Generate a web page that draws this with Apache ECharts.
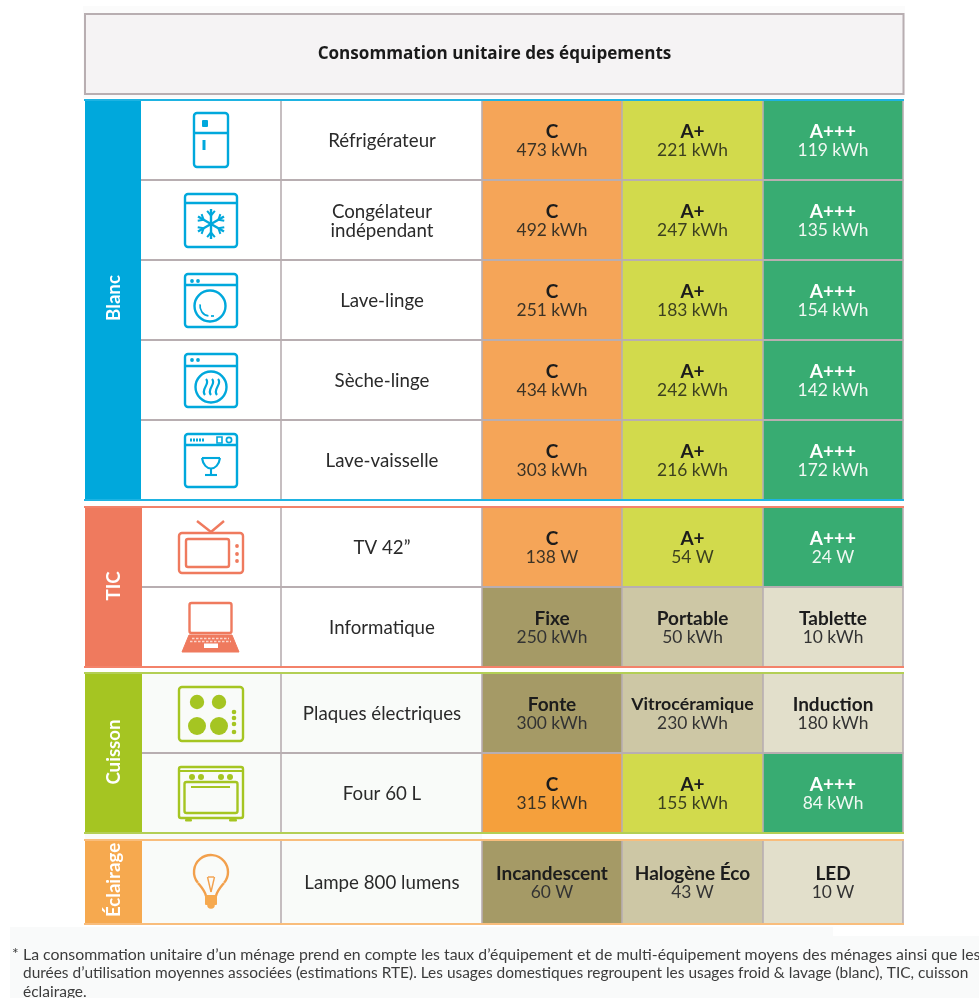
<!DOCTYPE html>
<html lang="fr"><head><meta charset="utf-8">
<style>html,body{margin:0;padding:0;background:#fff}#c{width:979px;height:998px}</style>
<script src="https://cdn.jsdelivr.net/npm/echarts@6/dist/echarts.min.js"></script></head>
<body><div id="c"></div>
<script>
const titleText = 'Consommation unitaire des équipements';
const groups = ['Blanc','TIC','Cuisson','Éclairage'];
const rowGroup = [0,0,0,0,0,1,1,2,2,3];
const equipment = ['Réfrigérateur','Congélateur\nindépendant','Lave-linge','Sèche-linge','Lave-vaisselle','TV 42”','Informatique','Plaques électriques','Four 60 L','Lampe 800 lumens'];
const icons = ['fridge','freezer','washer','dryer','dishwasher','tv','laptop','hob','oven','bulb'];
const classLow = ['C','C','C','C','C','C','Fixe','Fonte','C','Incandescent'];
const classMid = ['A+','A+','A+','A+','A+','A+','Portable','Vitrocéramique','A+','Halogène Éco'];
const classHigh = ['A+++','A+++','A+++','A+++','A+++','A+++','Tablette','Induction','A+++','LED'];
const valuesLow = [473,492,251,434,303,138,250,300,315,60];
const valuesMid = [221,247,183,242,216,54,50,230,155,43];
const valuesHigh = [119,135,154,142,172,24,10,180,84,10];
const units = ['kWh','kWh','kWh','kWh','kWh','W','kWh','kWh','kWh','W'];
const footnoteMark = '*';
const footnote = ['La consommation unitaire d’un ménage prend en compte les taux d’équipement et de multi-équipement moyens des ménages ainsi que les',
  'durées d’utilisation moyennes associées (estimations RTE). Les usages domestiques regroupent les usages froid & lavage (blanc), TIC, cuisson',
  'éclairage.'];

// layout, in the pixel-like units of the two hidden value axes
const rowTop = [100,180,260,340,420,507,587,673,753,840];
const rowBottom = [180,260,340,420,500,587,667,753,833,924];
const colEdges = [482,622,763,903];
const groupRows = [[0,4],[5,6],[7,8],[9,9]];
const groupColor = ['#00a8dc','#ef7a5e','#a5c522','#f6a94f'];
const groupLine = ['#1eb3e2','#f3826a','#b3cf55','#f9bd7c'];
const grid = '#b8aeb1';
const FONT = 'Lato, "Open Sans", sans-serif';
const dark = '#2a2a2a';

function cellStyle(rowI, colI){
  const label = [classLow,classMid,classHigh][colI][rowI];
  if (label === 'C') return {fill: rowI===8 ? '#f5a03c' : '#f5a558', head:'#1c1c1c', val:'#3b3326'};
  if (label === 'A+') return {fill:'#d2da4c', head:'#1c1c1c', val:'#3c4020'};
  if (label === 'A+++') return {fill:'#38ac72', head:'#ffffff', val:'#f0f8f2'};
  return {fill:['#a59a66','#cdc7a5','#e2dfcb'][colI], head:'#1c1c1c', val:'#333'};
}

function drawIcon(kind, api, color){
  const P = api.coord.bind(api);
  const c = (x,y)=>P([x,y]);
  const st = {stroke:color, fill:'none', lineWidth:2.4};
  const out = [];
  const rect = (x0,y0,x1,y1,r,s)=>{const a=c(x0,y0),b=c(x1,y1);out.push({type:'rect',shape:{x:a[0],y:a[1],width:b[0]-a[0],height:b[1]-a[1],r:r||0},style:Object.assign({},st,s||{})});};
  const line = (x0,y0,x1,y1,s)=>{const a=c(x0,y0),b=c(x1,y1);out.push({type:'line',shape:{x1:a[0],y1:a[1],x2:b[0],y2:b[1]},style:Object.assign({},st,s||{})});};
  const circ = (x,y,r,s)=>{const a=c(x,y);out.push({type:'circle',shape:{cx:a[0],cy:a[1],r},style:Object.assign({},st,s||{})});};
  const dot = (x,y,r)=>circ(x,y,r,{fill:color,stroke:'none'});
  const arc = (x,y,r,a0,a1,s)=>{const a=c(x,y);out.push({type:'arc',shape:{cx:a[0],cy:a[1],r,startAngle:a0,endAngle:a1,clockwise:true},style:Object.assign({},st,s||{})});};
  const bez = (x0,y0,c1x,c1y,c2x,c2y,x1,y1,s)=>{const a=c(x0,y0),b=c(x1,y1),p=c(c1x,c1y),q=c(c2x,c2y);out.push({type:'bezierCurve',shape:{x1:a[0],y1:a[1],x2:b[0],y2:b[1],cpx1:p[0],cpy1:p[1],cpx2:q[0],cpy2:q[1]},style:Object.assign({},st,s||{})});};
  const poly = (pts,s)=>{out.push({type:'polygon',shape:{points:pts.map(p=>c(p[0],p[1]))},style:Object.assign({},st,s||{})});};
  if (kind==='fridge'){
    rect(194,113,228,167,3); line(194,133,228,133);
    rect(202,120,208,127,1,{fill:color,stroke:'none'}); line(204,140,204,150,{lineWidth:3});
  } else if (kind==='freezer'){
    rect(185,194,237,247,3); line(185,203,237,203);
    const cx=211,cy=224;
    for(let i=0;i<6;i++){
      const t=Math.PI/6+i*Math.PI/3, ux=Math.cos(t), uy=Math.sin(t);
      line(cx,cy,cx+15*ux,cy+15*uy);
      const bx=cx+8.5*ux, by=cy+8.5*uy;
      [0.7,-0.7].forEach(d=>{const a=t+d; line(bx,by,bx+6*Math.cos(a),by+6*Math.sin(a),{lineWidth:2});});
    }
  } else if (kind==='washer'){
    rect(185,274,237,327,3); line(185,285,237,285);
    dot(192,281,1.9); dot(198,281,1.9);
    circ(210,306,15.5); arc(210,306,10,Math.PI*0.55,Math.PI*1.05,{lineWidth:1.7});
    line(211,316,214,316,{lineWidth:1.7});
  } else if (kind==='dryer'){
    rect(185,354,237,407,3); line(185,366,237,366);
    dot(192,360,1.9); dot(198,360,1.9);
    circ(211,387,15.5);
    [205,211,217].forEach(x=>bez(x+1,379,x+6,384,x-5,389,x,395,{lineWidth:2.2}));
  } else if (kind==='dishwasher'){
    rect(185,434,237,487,3); line(185,445,237,445);
    line(190,440,204,440,{lineDash:[2,1],lineWidth:2.8});
    rect(217,437,222,443,0,{lineWidth:1.6}); circ(229,440,2.6,{lineWidth:1.7});
    line(202,458,220,458,{lineWidth:2.1});
    bez(202,458,204,472,218,472,220,458,{lineWidth:2.1});
    line(211,469,211,475,{lineWidth:2.1}); line(205,475,217,475,{lineWidth:2.1});
  } else if (kind==='tv'){
    rect(179,533,243,573,3); rect(186,539,229,567,2);
    line(211,532,197,521); line(211,532,224,521);
    dot(237,546,1.9); dot(237,554,1.9); dot(237,561,1.9);
  } else if (kind==='laptop'){
    rect(189.5,603,231.5,633,2);
    poly([[189,635],[232,635],[239,652],[182,652]],{fill:color,stroke:color,lineWidth:1});
    line(192,638.5,229,638.5,{stroke:'#fbd5cb',lineWidth:1.5,lineDash:[2.5,1.5]});
    line(190,641.5,231,641.5,{stroke:'#fbd5cb',lineWidth:1.5,lineDash:[2.5,1.5]});
    rect(204,643.5,218,648,0,{fill:'#fff',stroke:'none'});
  } else if (kind==='hob'){
    rect(179,687,243,741,3);
    dot(197,702,7.2); dot(219,702,7.2); dot(197,726,9); dot(219,726,9);
    [712,718,724,732].forEach(y=>dot(234,y,2.3));
  } else if (kind==='oven'){
    rect(179,767,243,818,2); line(179,771,243,771,{lineWidth:1.8});
    [192,201,221,230].forEach(x=>dot(x,777,3));
    rect(184.5,782,237.5,813,2); line(191,787,230,787,{lineWidth:2});
    rect(185,819,192,821.5,1,{fill:color,stroke:'none'}); rect(229,819,237,821.5,1,{fill:color,stroke:'none'});
  } else if (kind==='bulb'){
    const bulbColor='#f2a04c';
    arc(211,872,17,Math.PI*0.78,Math.PI*0.22,{stroke:bulbColor});
    bez(198,883,203,889,205,891,206,896,{stroke:bulbColor});
    bez(224,883,219,889,217,891,216,896,{stroke:bulbColor});
    line(208,877,214,877,{lineWidth:1.4,stroke:bulbColor});
    line(207.5,877,211,892,{lineWidth:1.4,stroke:bulbColor}); line(214.5,877,211,892,{lineWidth:1.4,stroke:bulbColor});
    rect(205,895,217,905,1,{fill:color,stroke:'none'});
    dot(211,905,3.8);
  }
  return out;
}

const rows = equipment.map((_,i)=>[211,(rowTop[i]+rowBottom[i])/2,i]);
const cells = [];
equipment.forEach((_,r)=>[0,1,2].forEach(col=>cells.push([(colEdges[col]+colEdges[col+1])/2,(rowTop[r]+rowBottom[r])/2,r,col])));
const bandData = groups.map((g,i)=>[113,(rowTop[groupRows[i][0]]+rowBottom[groupRows[i][1]])/2,i]);

function rectEl(api,x0,y0,x1,y1,style){
  const a=api.coord([x0,y0]),b=api.coord([x1,y1]);
  return {type:'rect',shape:{x:a[0],y:a[1],width:b[0]-a[0],height:b[1]-a[1]},style};
}
function lineEl(api,x0,y0,x1,y1,stroke,w){
  const a=api.coord([x0,y0]),b=api.coord([x1,y1]);
  return {type:'line',shape:{x1:a[0],y1:a[1],x2:b[0],y2:b[1]},style:{stroke,lineWidth:w||2}};
}
function textEl(api,x,y,text,font,fill,align){
  const a=api.coord([x,y]);
  return {type:'text',style:{x:a[0],y:a[1],text,font,fill,textAlign:align||'center',textVerticalAlign:'middle'}};
}

const chart = echarts.init(document.getElementById('c'),null,{renderer:'canvas'});
chart.setOption({
  animation:false,
  backgroundColor:'#ffffff',
  grid:{left:0,right:0,top:0,bottom:0},
  xAxis:{type:'value',min:0,max:979,show:false},
  yAxis:{type:'value',min:0,max:998,inverse:true,show:false},
  tooltip:{show:false},
  series:[
    { // page backgrounds, title box and footnote
      type:'custom',silent:true,clip:false,z:1,data:[[0,0]],encode:{x:0,y:1},
      renderItem(p,api){
        const ch=[
          rectEl(api,83,6,905,98,{fill:'#fbfbfb'}),
          rectEl(api,10,927,979,998,{fill:'#f9fafa'}),
          rectEl(api,833,927,979,936,{fill:'#ffffff'}),
          rectEl(api,85,673,482,924,{fill:'#f9fbf9'}),
          rectEl(api,85,14,903.5,94,{fill:'#f5f3f4',stroke:grid,lineWidth:2}),
          textEl(api,494.5,54,titleText,'700 17.1px "Open Sans", sans-serif','#1a1a1a')
        ];
        ch.push(textEl(api,12,954,footnoteMark,'400 15.7px '+FONT,'#3c3c3c','left'));
        footnote.forEach((t,i)=>ch.push(textEl(api,23,[955,973,992][i],t,'400 '+[15.85,15.45,15.5][i]+'px '+FONT,'#3c3c3c','left')));
        return {type:'group',children:ch};
      }
    },
    { // value cells
      type:'custom',silent:true,clip:false,z:2,data:cells,encode:{x:0,y:1},
      renderItem(p,api){
        const r=api.value(2),col=api.value(3),s=cellStyle(r,col);
        const x0=colEdges[col],x1=colEdges[col+1],mid=api.value(1),cx=api.value(0);
        const v=[valuesLow,valuesMid,valuesHigh][col][r];
        const head=[classLow,classMid,classHigh][col][r];
        const headSize=head.length>12?17.8:19;
        return {type:'group',children:[
          rectEl(api,x0,rowTop[r],x1,rowBottom[r],{fill:s.fill}),
          textEl(api,cx,mid-8.5,head,'700 '+headSize+'px '+FONT,s.head),
          textEl(api,cx,mid+10.5,v+' '+units[r],'400 17.4px '+FONT,s.val)
        ]};
      }
    },
    { // equipment names and icons
      type:'custom',silent:true,clip:false,z:3,data:rows,encode:{x:0,y:1},
      renderItem(p,api){
        const i=api.value(2),mid=api.value(1);
        const parts=equipment[i].split('\n');
        const ch=parts.map((t,k)=>textEl(api,382,mid+1+(k-(parts.length-1)/2)*19,t,'400 18.7px '+FONT,dark));
        return {type:'group',children:ch.concat(drawIcon(icons[i],api,groupColor[rowGroup[i]]))};
      }
    },
    { // table rules
      type:'custom',silent:true,clip:false,z:4,data:rows,encode:{x:0,y:1},
      renderItem(p,api){
        const i=api.value(2),g=rowGroup[i],ch=[];
        const last=groupRows[g][1]===i;
        [281,482,622,763,903].forEach(x=>ch.push(lineEl(api,x,rowTop[i],x,rowBottom[i],grid,1.6)));
        if(!last) ch.push(lineEl(api,141,rowBottom[i],903.5,rowBottom[i],grid,2));
        return {type:'group',children:ch};
      }
    },
    { // group bands and coloured rules
      type:'custom',silent:true,clip:false,z:5,data:bandData,encode:{x:0,y:1},
      renderItem(p,api){
        const g=api.value(2),top=rowTop[groupRows[g][0]],bot=rowBottom[groupRows[g][1]];
        const a=api.coord([[113.5,298],[113.5,586],[113.5,752],[113.5,880]][g]);
        return {type:'group',children:[
          rectEl(api,85,top,g===0?141:142,bot,{fill:groupColor[g]}),
          lineEl(api,84,top,904,top,groupLine[g],2),
          lineEl(api,84,bot,904,bot,groupLine[g],2),
          {type:'text',x:a[0],y:a[1],rotation:Math.PI/2,style:{x:0,y:0,text:groups[g],font:'700 18.7px '+FONT,fill:'#fff',textAlign:'center',textVerticalAlign:'middle'}}
        ]};
      }
    }
  ]
});
</script></body></html>
